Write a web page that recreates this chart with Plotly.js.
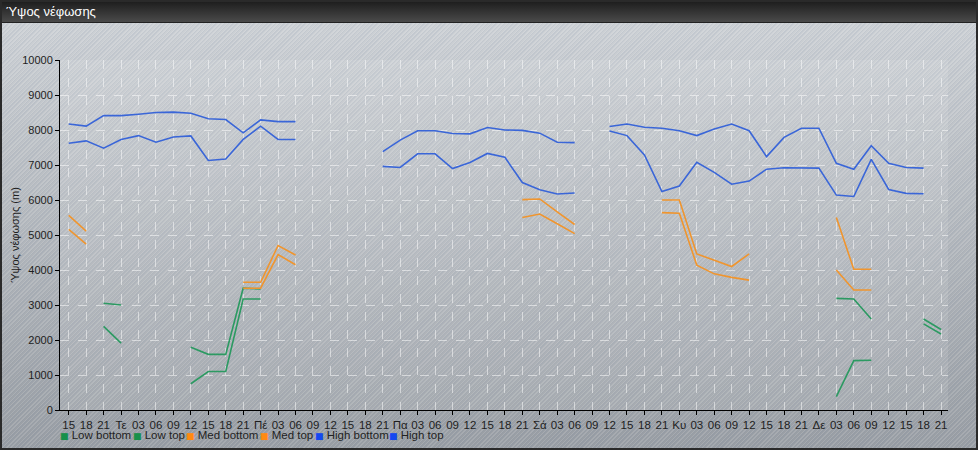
<!DOCTYPE html>
<html>
<head>
<meta charset="utf-8">
<script src="https://cdn.plot.ly/plotly-3.0.1.min.js"></script>
<style>
  html,body{margin:0;padding:0;background:#ffffff;}
  #wrap{position:relative;width:978px;height:450px;overflow:hidden;box-sizing:border-box;border:2px solid #2a2a2a;
    background:
      repeating-linear-gradient(135deg, rgba(255,255,255,0.13) 0px, rgba(255,255,255,0.13) 1px, rgba(110,130,165,0.09) 1px, rgba(110,130,165,0.09) 2px, rgba(0,0,0,0) 2px, rgba(0,0,0,0) 3px),
      linear-gradient(#cfd3d7, #989da3);}
  #bar{position:absolute;left:-2px;top:-2px;width:978px;height:22px;background:linear-gradient(#1a1a1a,#4a4a4a);border-bottom:1px solid #222;}
  #chart{position:absolute;left:-2px;top:-2px;width:978px;height:450px;}
</style>
</head>
<body>
<div id="wrap"><div id="bar"></div><div id="chart"></div></div>
<script>
// Tick labels (3-hourly steps, day names at midnight)
const tickLabels = ["15","18","21","Τε","03","06","09","12","15","18","21","Πέ","03","06","09","12","15","18","21","Πα","03","06","09","12","15","18","21","Σά","03","06","09","12","15","18","21","Κυ","03","06","09","12","15","18","21","Δε","03","06","09","12","15","18","21"];

const N = null;
const lowBottom = [N,N,2390,1910,N,N,N,750,1100,1100,3170,3170,N,N,N,N,N,N,N,N,N,N,N,N,N,N,N,N,N,N,N,N,N,N,N,N,N,N,N,N,N,N,N,N,380,1410,1420,N,N,2460,2170];
const lowTop    = [N,N,3050,3000,N,N,N,1790,1590,1590,3480,3460,N,N,N,N,N,N,N,N,N,N,N,N,N,N,N,N,N,N,N,N,N,N,N,N,N,N,N,N,N,N,N,N,3190,3170,2600,N,N,2600,2300];
const medBottom = [5160,4740,N,N,N,N,N,N,N,N,3480,3480,4440,4150,N,N,N,N,N,N,N,N,N,N,N,N,5500,5600,5320,5040,N,N,N,N,5640,5620,4140,3890,3790,3710,N,N,N,N,4000,3430,3430,N,N,N,N];
const medTop    = [5560,5110,N,N,N,N,N,N,N,N,3650,3650,4700,4430,N,N,N,N,N,N,N,N,N,N,N,N,6010,6030,5660,5300,N,N,N,N,6000,6000,4460,4270,4100,4460,N,N,N,N,5500,4020,4020,N,N,N,N];
const highBottom= [7620,7690,7480,7730,7840,7650,7800,7830,7130,7170,7730,8110,7730,7730,N,N,N,N,6960,6930,7320,7320,6900,7070,7330,7220,6500,6290,6170,6200,N,7970,7840,7290,6240,6400,7080,6790,6450,6540,6880,6920,6920,6910,6140,6100,7160,6300,6190,6180,N];
const highTop   = [8170,8110,8410,8410,8450,8500,8510,8480,8320,8300,7920,8290,8240,8240,N,N,N,N,7380,7710,7980,7980,7900,7890,8070,8000,7990,7910,7650,7640,N,8100,8170,8080,8050,7980,7840,8030,8170,7980,7240,7790,8050,8050,7050,6880,7550,7050,6930,6910,N];

const seriesNames = ["Low bottom","Low top","Med bottom","Med top","High bottom","High top"];
const seriesData = [lowBottom, lowTop, medBottom, medTop, highBottom, highTop];
const lineColors = ["#2c9a62","#2c9a62","#f0952e","#f0952e","#3a66d8","#3a66d8"];
const legendColors = ["#17904a","#17904a","#ff8a10","#ff8a10","#1448f0","#1448f0"];

const xIdx = tickLabels.map((_, i) => i);

const traces = seriesData.map((ys, k) => ({
  type: "scatter",
  mode: "lines",
  name: seriesNames[k],
  x: xIdx,
  y: ys,
  connectgaps: false,
  line: {color: lineColors[k], width: 1.6},
  hoverinfo: "x+y+name",
  showlegend: false
}));

// legend drawn as text entries under the axis
const legendPx = [59, 131.5, 185, 258.5, 313.5, 387.5];
const plotL = 60, plotR = 948, plotT = 60, plotB = 410;
const legendAnn = seriesNames.map((nm, k) => ({
  xref: "paper", yref: "paper",
  x: (legendPx[k] - plotL) / (plotR - plotL),
  y: (plotB - 435) / (plotB - plotT),
  xanchor: "left", yanchor: "middle",
  showarrow: false,
  borderpad: 0,
  text: '<span style="color:' + legendColors[k] + ';font-size:9px;font-family:DejaVu Sans">■</span> ' + nm,
  font: {family: "Liberation Sans, Arial, sans-serif", size: 11.5, color: "#222"}
}));

const layout = {
  width: 978, height: 450,
  margin: {l: plotL, r: 978 - plotR, t: plotT, b: 450 - plotB, pad: 0},
  paper_bgcolor: "rgba(0,0,0,0)",
  plot_bgcolor: "rgba(255,255,255,0.10)",
  font: {family: "Liberation Sans, Arial, sans-serif", size: 11, color: "#1e1e1e"},
  title: {
    text: "Ύψος νέφωσης",
    xref: "container", yref: "container",
    x: 6 / 978, xanchor: "left",
    y: 1 - 11 / 450, yanchor: "middle",
    font: {family: "Liberation Sans, Arial, sans-serif", size: 13, color: "#ffffff"}
  },
  showlegend: false,
  xaxis: {
    range: [-0.5, 50.4],
    tickmode: "array",
    tickvals: xIdx,
    ticktext: tickLabels,
    tickangle: 0,
    ticks: "outside", ticklen: 4, tickcolor: "#000",
    showline: true, linecolor: "#000", linewidth: 1,
    showgrid: true, gridcolor: "rgba(255,255,255,0.5)", griddash: "dash", gridwidth: 1,
    zeroline: false,
    fixedrange: true,
    tickfont: {size: 11.5, color: "#1e1e1e"}
  },
  yaxis: {
    range: [0, 10000],
    dtick: 1000,
    tick0: 0,
    tickformat: "d",
    ticks: "outside", ticklen: 4, tickcolor: "#000",
    showline: true, linecolor: "#000", linewidth: 1,
    showgrid: true, gridcolor: "rgba(255,255,255,0.5)", griddash: "dash", gridwidth: 1,
    zeroline: false,
    fixedrange: true,
    tickfont: {size: 11, color: "#1e1e1e"},
    title: {text: "Ύψος νέφωσης (m)", standoff: 0, font: {size: 11, color: "#1e1e1e"}}
  },
  annotations: legendAnn
};

Plotly.newPlot("chart", traces, layout, {displayModeBar: false, staticPlot: true});
</script>
</body>
</html>
